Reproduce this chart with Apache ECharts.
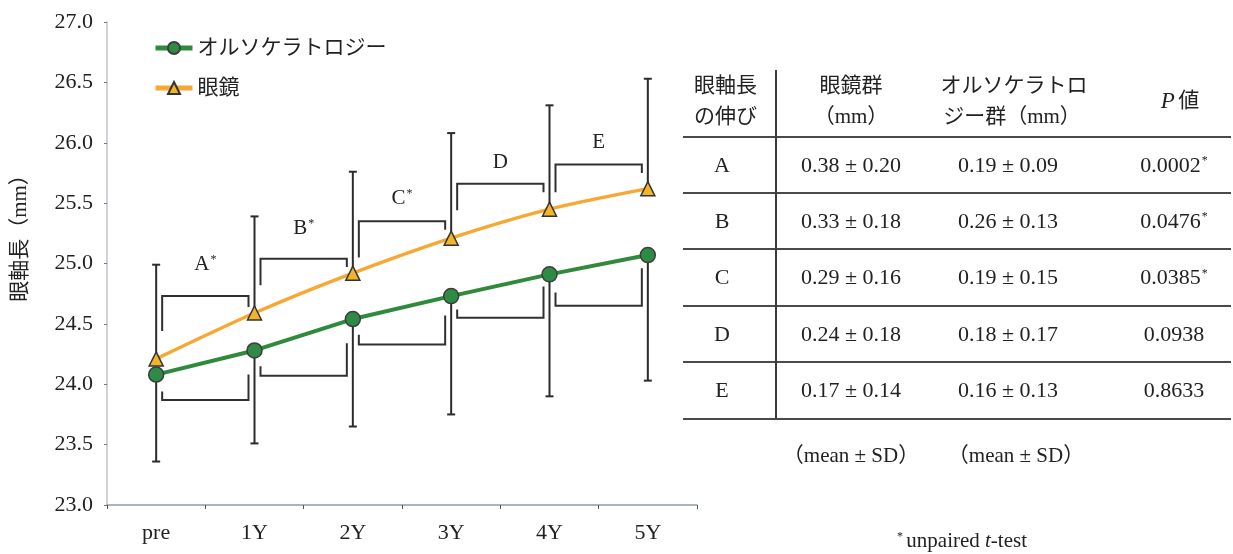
<!DOCTYPE html>
<html>
<head>
<meta charset="utf-8">
<script src="https://cdn.jsdelivr.net/npm/echarts@6/dist/echarts.min.js"></script>
<style>
  html, body { margin: 0; padding: 0; background: #fff; }
  #chart { width: 1233px; height: 554px; }
</style>
</head>
<body>
<div id="chart"></div>
<script>
// ---- axial length over time (mm) ----
const categories = ['pre', '1Y', '2Y', '3Y', '4Y', '5Y'];
const orthoName = 'オルソケラトロジー';
const glassName = '眼鏡';
const orthoMean = [24.08, 24.28, 24.54, 24.73, 24.91, 25.07];
const orthoSD   = [0.72, 0.77, 0.89, 0.98, 1.01, 1.04];
const glassMean = [24.21, 24.59, 24.92, 25.21, 25.45, 25.62];
const glassSD   = [0.78, 0.80, 0.84, 0.87, 0.86, 0.91];
const yMin = 23.0, yMax = 27.0, yStep = 0.5;
const yAxisTitle = '眼軸長（mm）';

// ---- yearly elongation (table) ----
const intervalNames   = ['A', 'B', 'C', 'D', 'E'];
const glassChangeMean = [0.38, 0.33, 0.29, 0.24, 0.17];
const glassChangeSD   = [0.20, 0.18, 0.16, 0.18, 0.14];
const orthoChangeMean = [0.19, 0.26, 0.19, 0.18, 0.16];
const orthoChangeSD   = [0.09, 0.13, 0.15, 0.17, 0.13];
const pValues         = [0.0002, 0.0476, 0.0385, 0.0938, 0.8633];

// ---- interval brackets, levels in mm ----
const glassBracketTop      = [24.73, 25.04, 25.35, 25.66, 25.82];
const glassBracketLeftEnd  = [24.44, 24.82, 25.05, 25.44, 25.59];
const glassBracketRightEnd = [24.64, 24.97, 25.28, 25.59, 25.75];
const orthoBracketBottom   = [23.87, 24.07, 24.33, 24.55, 24.65];
const orthoBracketLeftEnd  = [23.94, 24.15, 24.41, 24.62, 24.76];
const orthoBracketRightEnd = [24.08, 24.34, 24.57, 24.81, 24.96];
const bracketLabelLevel    = [24.99, 25.29, 25.54, 25.84, 26.00];

const serif = '"Liberation Serif", "Noto Sans CJK JP", serif';
const ink = '#222222';
const green = '#2f8a3c';
const orange = '#f6a833';

const chart = echarts.init(document.getElementById('chart'));

function starRich(size) {
  return {
    m: { fontSize: size, fontFamily: serif, fill: ink, color: ink },
    s: { fontSize: 12, fontFamily: serif, fill: ink, color: ink, verticalAlign: 'top', padding: [0, 0, 0, 1] }
  };
}
function starred(text, flag) {
  return flag ? '{m|' + text + '}{s|*}' : '{m|' + text + '}';
}

// error bars: glasses upward, orthokeratology downward
const errorData = categories.map((c, i) => [
  i, glassMean[i], glassMean[i] + glassSD[i], orthoMean[i], orthoMean[i] - orthoSD[i]
]);

function renderErrorBar(params, api) {
  const x = api.value(0);
  const g0 = api.coord([x, api.value(1)]);
  const g1 = api.coord([x, api.value(2)]);
  const o0 = api.coord([x, api.value(3)]);
  const o1 = api.coord([x, api.value(4)]);
  const cap = 4;
  const st = { stroke: '#2b2b2b', lineWidth: 2 };
  return {
    type: 'group',
    children: [
      { type: 'line', shape: { x1: g0[0], y1: g0[1], x2: g1[0], y2: g1[1] }, style: st },
      { type: 'line', shape: { x1: g1[0] - cap, y1: g1[1], x2: g1[0] + cap, y2: g1[1] }, style: st },
      { type: 'line', shape: { x1: o0[0], y1: o0[1], x2: o1[0], y2: o1[1] }, style: st },
      { type: 'line', shape: { x1: o1[0] - cap, y1: o1[1], x2: o1[0] + cap, y2: o1[1] }, style: st }
    ]
  };
}

const bracketData = intervalNames.map((n, k) => [
  k, glassBracketTop[k], glassBracketLeftEnd[k], glassBracketRightEnd[k],
  orthoBracketBottom[k], orthoBracketLeftEnd[k], orthoBracketRightEnd[k],
  bracketLabelLevel[k]
]);

function renderBracket(params, api) {
  const k = api.value(0);
  const inset = 6;
  const xl = api.coord([k, yMin])[0] + inset;
  const xr = api.coord([k + 1, yMin])[0] - inset;
  const y = v => api.coord([k, v])[1];
  const st = { stroke: '#303030', lineWidth: 2, fill: null };
  const idx = params.dataIndex;
  return {
    type: 'group',
    children: [
      { type: 'polyline', shape: { points: [[xl, y(api.value(2))], [xl, y(api.value(1))], [xr, y(api.value(1))], [xr, y(api.value(3))]] }, style: st },
      { type: 'polyline', shape: { points: [[xl, y(api.value(5))], [xl, y(api.value(4))], [xr, y(api.value(4))], [xr, y(api.value(6))]] }, style: st },
      {
        type: 'text', x: (xl + xr) / 2, y: y(api.value(7)),
        style: {
          text: starred(intervalNames[idx], pValues[idx] < 0.05),
          rich: starRich(21), align: 'center', verticalAlign: 'middle'
        }
      }
    ]
  };
}

// ---- table drawn as graphic elements ----
const tableLeft = 683, tableRight = 1231, colSepX = 776, headTop = 70;
const ruleY = [137, 193, 249, 306, 362, 419];
const colCenter = [722, 851, 1008, 1174];
const headLine1 = 86, headLine2 = 117;
const fmt2 = v => v.toFixed(2);

const tableEls = [];
ruleY.forEach(yy => tableEls.push({
  type: 'line', shape: { x1: tableLeft, y1: yy, x2: tableRight, y2: yy },
  style: { stroke: '#4a4a4a', lineWidth: 2 }
}));
tableEls.push({
  type: 'line', shape: { x1: colSepX, y1: headTop, x2: colSepX, y2: ruleY[ruleY.length - 1] },
  style: { stroke: '#3a3a3a', lineWidth: 2 }
});
function tText(text, x, y, size, align) {
  return {
    type: 'text', x: x, y: y,
    style: { text: text, fontSize: size, fontFamily: serif, fill: ink, align: align || 'center', verticalAlign: 'middle' }
  };
}
tableEls.push(tText('眼軸長', 694, headLine1, 21, 'left'));
tableEls.push(tText('の伸び', 694, headLine2, 21, 'left'));
tableEls.push(tText('眼鏡群', colCenter[1], headLine1, 21));
tableEls.push(tText('（mm）', colCenter[1], headLine2, 21));
tableEls.push(tText('オルソケラトロ', colCenter[2] + 6, headLine1, 21));
tableEls.push(tText('ジー群（mm）', colCenter[2] + 4, headLine2, 21));
tableEls.push({
  type: 'text', x: colCenter[3] + 6, y: (headLine1 + headLine2) / 2,
  style: {
    text: '{p|P} {v|値}', align: 'center', verticalAlign: 'middle',
    rich: {
      p: { fontSize: 23, fontFamily: serif, fontStyle: 'italic', fill: ink },
      v: { fontSize: 21, fontFamily: serif, fill: ink }
    }
  }
});
intervalNames.forEach((n, k) => {
  const cy = (ruleY[k] + ruleY[k + 1]) / 2 + 1;
  tableEls.push(tText(n, colCenter[0], cy, 22));
  tableEls.push(tText(fmt2(glassChangeMean[k]) + ' ± ' + fmt2(glassChangeSD[k]), colCenter[1], cy, 22));
  tableEls.push(tText(fmt2(orthoChangeMean[k]) + ' ± ' + fmt2(orthoChangeSD[k]), colCenter[2], cy, 22));
  tableEls.push({
    type: 'text', x: colCenter[3], y: cy,
    style: { text: starred(pValues[k].toFixed(4), pValues[k] < 0.05), rich: starRich(22), align: 'center', verticalAlign: 'middle' }
  });
});
tableEls.push(tText('（mean ± SD）', colCenter[1], 456, 21));
tableEls.push(tText('（mean ± SD）', colCenter[2] + 8, 456, 21));
tableEls.push({
  type: 'text', x: 962, y: 541,
  style: {
    text: '{s|*} {n|unpaired }{i|t}{n|-test}', align: 'center', verticalAlign: 'middle',
    rich: {
      s: { fontSize: 12, fontFamily: serif, fill: ink, verticalAlign: 'top' },
      n: { fontSize: 21, fontFamily: serif, fill: ink },
      i: { fontSize: 21, fontFamily: serif, fontStyle: 'italic', fill: ink }
    }
  }
});
tableEls.push({
  type: 'text', x: 20, y: 233, rotation: Math.PI / 2,
  style: { text: yAxisTitle, fontSize: 21, fontFamily: serif, fill: ink, align: 'center', verticalAlign: 'middle' }
});

const option = {
  animation: false,
  backgroundColor: '#ffffff',
  grid: { left: 107, right: 536, top: 22, bottom: 49 },
  legend: {
    orient: 'vertical', left: 153, top: 37, padding: 0,
    itemWidth: 37, itemHeight: 15, itemGap: 18,
    lineStyle: { width: 5 },
    textStyle: { fontSize: 21, lineHeight: 22, fontFamily: serif, color: ink },
    data: [orthoName, glassName]
  },
  xAxis: [
    {
      type: 'category', data: categories, boundaryGap: true,
      axisLine: { lineStyle: { color: '#8d9bb0', width: 1.5 } },
      axisTick: { show: true, length: 4, lineStyle: { color: '#555' } },
      axisLabel: { fontSize: 22, fontFamily: serif, color: ink, margin: 17 },
      splitLine: { show: false }
    },
    { type: 'value', min: -0.5, max: 5.5, show: false }
  ],
  yAxis: {
    type: 'value', min: yMin, max: yMax, interval: yStep,
    axisLine: { show: true, onZero: false, lineStyle: { color: '#bcc3d2', width: 1.5 } },
    axisTick: { show: true, length: 3, lineStyle: { color: '#777' } },
    axisLabel: { fontSize: 22, fontFamily: serif, color: ink, margin: 14, formatter: v => v.toFixed(1) },
    splitLine: { show: false }
  },
  series: [
    {
      type: 'custom', name: 'SD', xAxisIndex: 1, z: 1,
      renderItem: renderErrorBar, data: errorData, silent: true
    },
    {
      type: 'custom', name: 'interval', xAxisIndex: 1, z: 1,
      renderItem: renderBracket, data: bracketData, silent: true
    },
    {
      name: glassName, type: 'line', data: glassMean, smooth: 0.3, z: 3,
      symbol: 'triangle', symbolSize: 14,
      lineStyle: { color: orange, width: 3.5 },
      itemStyle: { color: '#f2b428', borderColor: '#333', borderWidth: 1.5 }
    },
    {
      name: orthoName, type: 'line', data: orthoMean, z: 4,
      symbol: 'circle', symbolSize: 15,
      lineStyle: { color: green, width: 4 },
      itemStyle: { color: '#2e8b45', borderColor: '#3d3d3d', borderWidth: 1.5 }
    }
  ],
  graphic: tableEls
};
chart.setOption(option);
</script>
</body>
</html>
